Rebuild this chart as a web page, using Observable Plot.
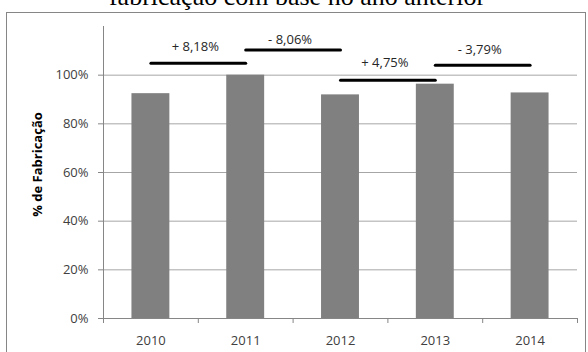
<!DOCTYPE html>
<html>
<head>
<meta charset="utf-8">
<script src="https://cdn.jsdelivr.net/npm/d3@7"></script>
<script src="https://cdn.jsdelivr.net/npm/@observablehq/plot@0.6"></script>
<style>
  html, body { margin: 0; padding: 0; background: #fff; }
  #wrap { position: relative; width: 588px; height: 352px; overflow: hidden; background: #fff; }
  #titulo {
    position: absolute; left: 0; width: 594px; top: -16px;
    font-family: "Liberation Serif", "Times New Roman", serif; font-size: 26px; line-height: 26px;
    text-align: center; color: #000; white-space: nowrap;
  }
  #moldura {
    position: absolute; left: 6px; top: 12px; width: 580px; height: 360px;
    border: 1px solid #868686; box-sizing: border-box;
  }
  #grafico { position: absolute; left: 0; top: 0; }
</style>
</head>
<body>
<div id="wrap">
  <div id="titulo">fabricação com base no ano anterior</div>
  <div id="moldura"></div>
  <div id="grafico"></div>
</div>
<script>
// Fabricação anual, relativa ao ano de maior produção (2011 = 100%)
const anos = [2010, 2011, 2012, 2013, 2014];
const fabricacao = [0.924, 1.0, 0.919, 0.963, 0.927];

// Variação de cada ano em relação ao anterior
const variacoes = ["+ 8,18%", "- 8,06%", "+ 4,75%", "- 3,79%"];
const nivelLinha = [1.049, 1.103, 0.979, 1.041];
const nivelRotulo = [1.115, 1.144, 1.049, 1.103];

const ticksY = [0, 0.2, 0.4, 0.6, 0.8, 1.0];

const barras = anos.map((ano, i) => ({ano, valor: fabricacao[i]}));
const saltos = variacoes.map((texto, i) => ({
  de: anos[i], ate: anos[i + 1], meio: (anos[i] + anos[i + 1]) / 2,
  texto, nivel: nivelLinha[i], rotulo: nivelRotulo[i]
}));
const dominioX = [anos[0] - 0.5, anos[anos.length - 1] + 0.5];
const limites = [...anos.map(a => a - 0.5), dominioX[1]];

const eixo = "#868686";
const fonte = "'Open Sans', 'Noto Sans', sans-serif";

const chart = Plot.plot({
  width: 588,
  height: 352,
  marginLeft: 103,
  marginRight: 11,
  marginTop: 26,
  marginBottom: 34,
  style: {fontFamily: fonte, fontSize: "13px", background: "transparent", color: "#404040"},
  x: {domain: dominioX},
  y: {domain: [0, 1.2]},
  marks: [
    Plot.gridY(ticksY, {stroke: "#a6a6a6", strokeOpacity: 1}),
    Plot.rectY(barras, {x1: d => d.ano - 0.2, x2: d => d.ano + 0.2, y: "valor", fill: "#808080"}),
    Plot.ruleX([dominioX[0]], {y1: 0, y2: 1.2, stroke: eixo}),
    Plot.ruleY([0], {stroke: eixo}),
    Plot.axisY({
      ticks: ticksY, tickSize: 5, tickPadding: 10, stroke: eixo, fill: "#404040",
      tickFormat: d => Math.round(d * 100) + "%", label: null
    }),
    Plot.axisX({ticks: limites, tickSize: 5, tickFormat: () => "", stroke: eixo, label: null}),
    Plot.axisX({ticks: anos, tickSize: 0, tickPadding: 17, tickFormat: d => String(d), fill: "#404040", label: null}),
    Plot.link(saltos, {x1: "de", x2: "ate", y1: "nivel", y2: "nivel", stroke: "#000", strokeWidth: 3, strokeLinecap: "round"}),
    Plot.text(saltos, {x: "meio", y: "rotulo", text: "texto", dx: -3, fill: "#262626", fontSize: 13}),
    Plot.text(["% de Fabricação"], {
      frameAnchor: "left", textAnchor: "middle", text: d => d, rotate: -90, dx: -66, dy: -8,
      fontWeight: "bold", fill: "#000", fontSize: 13
    })
  ]
});

document.getElementById("grafico").appendChild(chart);
</script>
</body>
</html>
